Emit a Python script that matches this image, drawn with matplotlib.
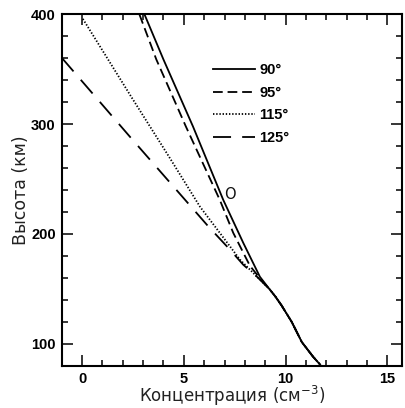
import matplotlib
matplotlib.use("Agg")
import matplotlib.pyplot as plt
from matplotlib.ticker import MultipleLocator

plt.rcParams['font.family'] = ['Liberation Sans', 'DejaVu Sans']
plt.rcParams['lines.scale_dashes'] = False

# Data (concentration, altitude km)
x_90 = [3.07, 4.0, 5.45, 6.94, 7.92, 8.74, 9.2, 9.5, 9.8, 10.3, 10.8, 11.36, 11.7]
y_90 = [400, 359, 298, 231, 192, 161, 150, 143, 135, 120, 101.5, 88, 81]

x_95 = [2.82, 3.65, 5.1, 6.77, 7.43, 8.25, 8.9, 9.2, 9.5, 9.8, 10.3, 10.8, 11.36, 11.7]
y_95 = [400, 359, 298, 231, 201, 171, 156, 150, 143, 135, 120, 101.5, 88, 81]

x_115 = [0.04, 2.4, 3.73, 4.32, 5.79, 6.77, 7.76, 8.58, 9.2, 9.5, 9.8, 10.3, 10.8, 11.36, 11.7]
y_115 = [396, 325.5, 286.4, 269, 225, 201, 176.6, 161.4, 150, 143, 135, 120, 101.5, 88, 81]

x_125 = [-1.0, 2.38, 6.2, 7.27, 7.92, 8.6, 9.2, 9.5, 9.8, 10.3, 10.8, 11.36, 11.7]
y_125 = [360.6, 288, 207, 185.7, 172, 161, 150, 143, 135, 120, 101.5, 88, 81]

labels = ['90°', '95°', '115°', '125°']

fig = plt.figure(figsize=(4.06, 4.08), dpi=100)
ax = fig.add_axes([0.152, 0.1037, 0.837, 0.8608])

lw = 1.3
ax.plot(x_90, y_90, color='black', lw=lw, linestyle='-', label=labels[0])
ax.plot(x_95, y_95, color='black', lw=lw, linestyle=(0, (7, 3.5)), label=labels[1])
ax.plot(x_115, y_115, color='black', lw=lw, linestyle=(0, (1.0, 1.3)), label=labels[2])
ax.plot(x_125, y_125, color='black', lw=lw, linestyle=(0, (13, 8)), label=labels[3])

ax.text(7.27, 236, 'O', fontsize=10.5, ha='center', va='center', color='#111111',
        family='DejaVu Sans')

ax.set_xlim(-1, 15.7)
ax.set_ylim(80, 400)
ax.xaxis.set_major_locator(MultipleLocator(5))
ax.xaxis.set_minor_locator(MultipleLocator(1))
ax.yaxis.set_major_locator(MultipleLocator(100))
ax.yaxis.set_minor_locator(MultipleLocator(20))

ax.tick_params(which='both', direction='in', top=True, right=True, width=1.1)
ax.tick_params(which='major', length=7.9, pad=4.3, labelsize=10.5)
ax.tick_params(which='minor', length=4.0)
for lab in ax.get_xticklabels() + ax.get_yticklabels():
    lab.set_fontweight('bold')
for s in ax.spines.values():
    s.set_linewidth(1.5)

ax.set_xlabel('Концентрация (см$^{-3}$)', fontsize=12, color='#222222', labelpad=-1,
              family='DejaVu Sans')
ax.set_ylabel('Высота (км)', fontsize=12.5, color='#222222', labelpad=1,
              family='DejaVu Sans')

leg = ax.legend(loc='upper left', bbox_to_anchor=(0.445, 0.862), frameon=False,
                handlelength=2.9, handletextpad=0.3, labelspacing=0.6,
                borderpad=0, borderaxespad=0,
                prop={'size': 10.5, 'weight': 'bold'})

fig.savefig('out.png', dpi=100)
